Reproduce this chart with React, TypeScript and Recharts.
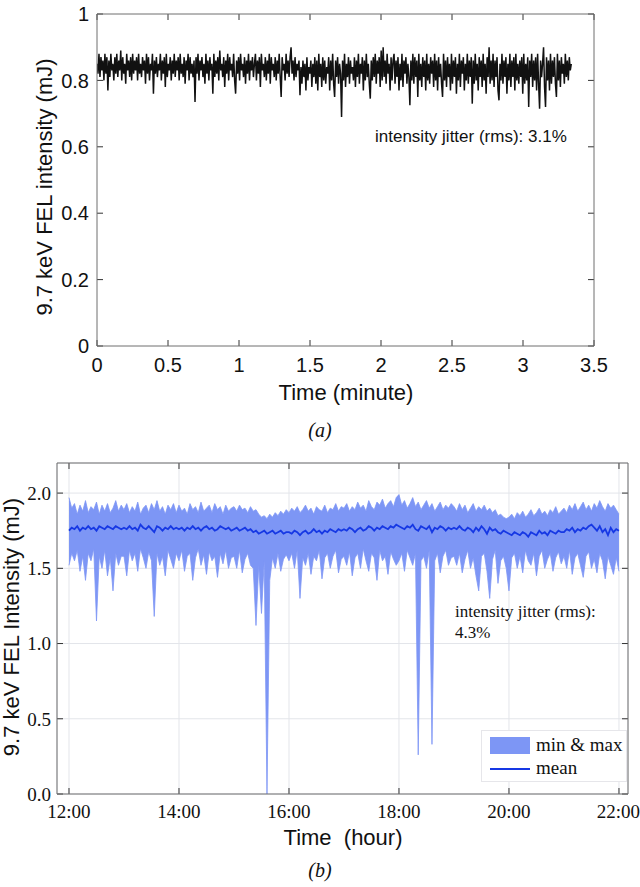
import { LineChart, Line, XAxis, YAxis, ComposedChart, Area, CartesianGrid, ReferenceLine } from 'recharts';

// ---- panel (a): single-shot intensity over ~3.3 minutes ----
const minuteTicks = [0, 0.5, 1, 1.5, 2, 2.5, 3, 3.5];
const intensityTicksA = [0, 0.2, 0.4, 0.6, 0.8, 1];
const traceStart = 0;
const traceEnd = 3.34;
const traceA = [
  0.85, 0.82, 0.88, 0.81, 0.87, 0.83, 0.86, 0.8, 0.88, 0.82, 0.87, 0.77, 0.86, 0.81, 0.88, 0.83, 0.85, 0.8, 0.87, 0.82,
  0.88, 0.81, 0.86, 0.83, 0.89, 0.8, 0.87, 0.82, 0.85, 0.79, 0.88, 0.83, 0.86, 0.81, 0.87, 0.8, 0.88, 0.82, 0.86, 0.83,
  0.87, 0.8, 0.88, 0.82, 0.85, 0.81, 0.87, 0.83, 0.86, 0.79, 0.88, 0.82, 0.87, 0.8, 0.85, 0.83, 0.88, 0.76, 0.86, 0.82,
  0.87, 0.81, 0.85, 0.83, 0.88, 0.8, 0.86, 0.82, 0.87, 0.78, 0.88, 0.81, 0.85, 0.83, 0.87, 0.8, 0.86, 0.82, 0.88, 0.81,
  0.86, 0.83, 0.87, 0.8, 0.88, 0.82, 0.85, 0.81, 0.87, 0.79, 0.86, 0.83, 0.88, 0.8, 0.87, 0.82, 0.85, 0.81, 0.86, 0.735,
  0.87, 0.82, 0.88, 0.8, 0.86, 0.83, 0.87, 0.81, 0.85, 0.79, 0.88, 0.82, 0.86, 0.8, 0.87, 0.83, 0.85, 0.76, 0.88, 0.81,
  0.86, 0.82, 0.87, 0.8, 0.89, 0.83, 0.85, 0.81, 0.87, 0.78, 0.86, 0.82, 0.88, 0.8, 0.87, 0.83, 0.85, 0.81, 0.88, 0.8,
  0.76, 0.86, 0.82, 0.87, 0.8, 0.88, 0.83, 0.85, 0.81, 0.87, 0.79, 0.86, 0.82, 0.88, 0.8, 0.86, 0.83, 0.87, 0.81, 0.85,
  0.88, 0.8, 0.86, 0.82, 0.87, 0.78, 0.88, 0.83, 0.85, 0.81, 0.87, 0.8, 0.86, 0.82, 0.88, 0.79, 0.87, 0.83, 0.85, 0.81,
  0.87, 0.8, 0.86, 0.82, 0.88, 0.81, 0.75, 0.87, 0.83, 0.85, 0.8, 0.88, 0.82, 0.86, 0.81, 0.87, 0.9, 0.82, 0.86, 0.8,
  0.87, 0.81, 0.85, 0.83, 0.86, 0.755, 0.84, 0.79, 0.86, 0.81, 0.85, 0.77, 0.87, 0.8, 0.84, 0.82, 0.86, 0.78, 0.85, 0.81,
  0.87, 0.79, 0.86, 0.77, 0.88, 0.81, 0.85, 0.78, 0.87, 0.8, 0.86, 0.79, 0.84, 0.82, 0.87, 0.77, 0.86, 0.8, 0.88, 0.79,
  0.75, 0.86, 0.81, 0.87, 0.79, 0.85, 0.82, 0.69, 0.86, 0.8, 0.88, 0.78, 0.85, 0.81, 0.87, 0.79, 0.86, 0.82, 0.84, 0.8,
  0.87, 0.78, 0.86, 0.81, 0.88, 0.79, 0.85, 0.82, 0.87, 0.77, 0.86, 0.8, 0.88, 0.81, 0.85, 0.79, 0.745, 0.86, 0.8, 0.87,
  0.81, 0.88, 0.79, 0.86, 0.82, 0.87, 0.78, 0.89, 0.8, 0.9, 0.81, 0.86, 0.79, 0.88, 0.82, 0.85, 0.77, 0.87, 0.8, 0.86,
  0.88, 0.79, 0.86, 0.81, 0.87, 0.77, 0.85, 0.8, 0.88, 0.78, 0.86, 0.82, 0.87, 0.79, 0.85, 0.81, 0.725, 0.86, 0.8, 0.88,
  0.79, 0.87, 0.81, 0.86, 0.75, 0.88, 0.8, 0.85, 0.78, 0.87, 0.81, 0.86, 0.77, 0.88, 0.8, 0.85, 0.79, 0.87, 0.82, 0.86,
  0.78, 0.88, 0.8, 0.86, 0.77, 0.87, 0.81, 0.85, 0.79, 0.75, 0.88, 0.8, 0.86, 0.78, 0.87, 0.81, 0.85, 0.77, 0.88, 0.79,
  0.86, 0.81, 0.87, 0.76, 0.85, 0.8, 0.88, 0.78, 0.86, 0.82, 0.87, 0.77, 0.85, 0.8, 0.88, 0.79, 0.86, 0.81, 0.87, 0.73,
  0.86, 0.79, 0.88, 0.8, 0.85, 0.77, 0.87, 0.81, 0.86, 0.78, 0.88, 0.8, 0.85, 0.76, 0.87, 0.81, 0.9, 0.79, 0.86, 0.8,
  0.88, 0.78, 0.86, 0.81, 0.87, 0.77, 0.74, 0.85, 0.8, 0.88, 0.79, 0.86, 0.81, 0.87, 0.76, 0.85, 0.8, 0.88, 0.78, 0.86,
  0.81, 0.87, 0.77, 0.88, 0.8, 0.85, 0.79, 0.86, 0.81, 0.87, 0.76, 0.88, 0.79, 0.85, 0.8, 0.87, 0.72, 0.86, 0.81, 0.88,
  0.78, 0.86, 0.8, 0.87, 0.77, 0.88, 0.79, 0.715, 0.86, 0.81, 0.85, 0.9, 0.78, 0.72, 0.87, 0.8, 0.86, 0.77, 0.88, 0.79,
  0.86, 0.81, 0.87, 0.79, 0.75, 0.88, 0.8, 0.86, 0.78, 0.87, 0.82, 0.85, 0.79, 0.88, 0.81, 0.86, 0.8, 0.87, 0.83, 0.85,
];

// ---- panel (b): 10 hours, binned min / max / mean ----
const hourTicks = [12, 14, 16, 18, 20, 22];
const intensityTicksB = [0, 0.5, 1, 1.5, 2];
const hourStart = 12;
const hourStep = 0.05;
const minB = [
  1.52, 1.6, 1.55, 1.62, 1.48, 1.58, 1.42, 1.6, 1.55, 1.63, 1.15, 1.58, 1.5, 1.62, 1.45, 1.57, 1.35, 1.6, 1.52, 1.58,
  1.58, 1.45, 1.62, 1.55, 1.6, 1.48, 1.63, 1.57, 1.5, 1.61, 1.55, 1.18, 1.6, 1.52, 1.58, 1.45, 1.62, 1.56, 1.5, 1.6,
  1.55, 1.62, 1.48, 1.58, 1.6, 1.42, 1.57, 1.63, 1.52, 1.59, 1.46, 1.61, 1.55, 1.58, 1.44, 1.6, 1.53, 1.62, 1.5, 1.57,
  1.58, 1.5, 1.62, 1.47, 1.56, 1.6, 1.52, 1.5, 1.12, 1.52, 1.2, 1.55, 0.0, 1.42, 1.57, 1.5, 1.6, 1.48, 1.56, 1.59,
  1.55, 1.6, 1.5, 1.62, 1.3, 1.57, 1.52, 1.6, 1.46, 1.58, 1.55, 1.62, 1.43, 1.57, 1.6, 1.5, 1.58, 1.62, 1.47, 1.56,
  1.58, 1.52, 1.61, 1.45, 1.57, 1.6, 1.5, 1.63, 1.55, 1.48, 1.6, 1.57, 1.42, 1.62, 1.55, 1.58, 1.46, 1.61, 1.56, 1.52,
  1.55, 1.6, 1.48, 1.62, 1.57, 1.52, 1.6, 0.26, 1.55, 1.58, 1.5, 1.62, 0.33, 1.55, 1.6, 1.47, 1.58, 1.62, 1.52, 1.57,
  1.58, 1.52, 1.6, 1.47, 1.56, 1.62, 1.5, 1.57, 1.45, 1.35, 1.58, 1.6, 1.48, 1.3, 1.56, 1.62, 1.4, 1.55, 1.58, 1.5,
  1.35, 1.57, 1.6, 1.5, 1.58, 1.47, 1.62, 1.55, 1.52, 1.6, 1.45, 1.58, 1.62, 1.5, 1.56, 1.6, 1.48, 1.57, 1.61, 1.53,
  1.58, 1.5, 1.62, 1.46, 1.57, 1.6, 1.52, 1.44, 1.58, 1.61, 1.5, 1.56, 1.47, 1.6, 1.55, 1.43, 1.58, 1.52, 1.46, 1.57, 1.48,
];
const maxB = [
  1.97, 1.9, 1.93, 1.86, 1.92, 1.88, 1.95, 1.87, 1.91, 1.89, 1.94, 1.86, 1.92, 1.88, 1.93, 1.87, 1.9, 1.95, 1.88, 1.92,
  1.89, 1.93, 1.87, 1.91, 1.88, 1.94, 1.86, 1.9, 1.92, 1.87, 1.93, 1.89, 1.95, 1.88, 1.91, 1.86, 1.92, 1.89, 1.93, 1.87,
  1.92, 1.88, 1.9, 1.86, 1.93, 1.89, 1.91, 1.87, 1.94, 1.88, 1.9, 1.92, 1.87, 1.93, 1.89, 1.91, 1.86, 1.92, 1.88, 1.9,
  1.91, 1.88, 1.92, 1.89, 1.9, 1.87, 1.91, 1.88, 1.89, 1.86, 1.84, 1.85, 1.83, 1.86, 1.84, 1.87, 1.85, 1.88, 1.86, 1.89,
  1.87, 1.9, 1.88, 1.91, 1.87, 1.89, 1.92, 1.88, 1.9, 1.86, 1.91, 1.89, 1.88, 1.92, 1.87, 1.9, 1.89, 1.93, 1.88, 1.91,
  1.9, 1.93, 1.88, 1.91, 1.89, 1.94, 1.9, 1.92, 1.88, 1.95, 1.91, 1.89, 1.94, 1.92, 1.96, 1.9, 1.93, 1.95, 1.91, 1.97,
  1.99, 1.92, 1.95, 1.9, 1.93, 1.97, 1.91, 1.94, 1.89, 1.92, 1.95, 1.9, 1.93, 1.88, 1.91, 1.94, 1.89, 1.92, 1.9, 1.93,
  1.91, 1.88, 1.93, 1.89, 1.92, 1.87, 1.9, 1.93, 1.88, 1.91, 1.89, 1.92, 1.88, 1.9, 1.87, 1.89, 1.85, 1.86, 1.84, 1.83,
  1.84, 1.86, 1.83, 1.87, 1.85, 1.88, 1.84, 1.86, 1.89, 1.85, 1.87, 1.9, 1.86, 1.88, 1.85, 1.89, 1.87, 1.91, 1.86, 1.88,
  1.9, 1.87, 1.92, 1.89, 1.93, 1.88, 1.91, 1.94, 1.89, 1.92, 1.88, 1.93, 1.9, 1.95, 1.91, 1.88, 1.93, 1.9, 1.92, 1.89, 1.86,
];
const meanB = [
  1.75, 1.77, 1.76, 1.78, 1.75, 1.77, 1.76, 1.78, 1.76, 1.77, 1.75, 1.78, 1.77, 1.76, 1.78, 1.77, 1.76, 1.78, 1.77, 1.76,
  1.77, 1.76, 1.78, 1.76, 1.77, 1.75, 1.79, 1.77, 1.76, 1.78, 1.76, 1.74, 1.78, 1.77, 1.75, 1.77, 1.76, 1.78, 1.76, 1.77,
  1.76, 1.77, 1.75, 1.77, 1.76, 1.78, 1.76, 1.77, 1.75, 1.77, 1.78, 1.76, 1.77, 1.75, 1.76, 1.78, 1.77, 1.76, 1.77, 1.75,
  1.76, 1.77, 1.75, 1.76, 1.77, 1.75, 1.76, 1.74, 1.75, 1.73, 1.74, 1.75, 1.73, 1.74, 1.75, 1.73, 1.74, 1.75, 1.73, 1.74,
  1.74, 1.73, 1.75, 1.74, 1.72, 1.74, 1.75, 1.73, 1.74, 1.76, 1.74, 1.75, 1.73, 1.75, 1.74, 1.76, 1.75, 1.74, 1.76, 1.75,
  1.76, 1.75, 1.77, 1.76, 1.74, 1.76, 1.77, 1.75, 1.76, 1.78, 1.77, 1.75, 1.77, 1.76, 1.78, 1.77, 1.76, 1.78, 1.77, 1.79,
  1.78, 1.77, 1.76, 1.78, 1.77, 1.79, 1.76, 1.75, 1.78, 1.77, 1.76, 1.78, 1.74, 1.77, 1.76, 1.78, 1.77, 1.75, 1.77, 1.76,
  1.77, 1.76, 1.78, 1.76, 1.75, 1.77, 1.76, 1.74, 1.77, 1.75, 1.78, 1.76, 1.73, 1.77, 1.75, 1.76, 1.74, 1.73, 1.75, 1.74,
  1.73, 1.72, 1.74, 1.73, 1.72, 1.74, 1.73, 1.71, 1.74, 1.73, 1.72, 1.75, 1.73, 1.74, 1.72, 1.75, 1.74, 1.73, 1.75, 1.74,
  1.74, 1.76, 1.75, 1.77, 1.74, 1.76, 1.75, 1.77, 1.76, 1.78, 1.79, 1.77, 1.75, 1.78, 1.74, 1.76, 1.72, 1.77, 1.74, 1.76, 1.75,
];

const dataA = traceA.map((v, i) => ({
  t: traceStart + (i * (traceEnd - traceStart)) / (traceA.length - 1),
  v,
}));

const dataB = meanB.map((m, i) => ({
  t: hourStart + i * hourStep,
  range: [minB[i], maxB[i]],
  mean: m,
}));

const SANS = '"Liberation Sans", Arial, sans-serif';
const SERIF = '"Liberation Serif", "Times New Roman", serif';
const FRAME = '#6e6e6e';
const TICK_COLOR = '#333';
const BAND = '#7d96f5';
const MEAN = '#1638e4';
const TICK_PX = 6;

const abs = (extra: React.CSSProperties): React.CSSProperties => ({ position: 'absolute', whiteSpace: 'nowrap', ...extra });

// MATLAB-style ticks pointing into the box on all four sides, drawn as short
// reference segments so they go through the chart's own scales.
function boxTicks(
  xTicks: number[],
  yTicks: number[],
  xDom: [number, number],
  yDom: [number, number],
  plotW: number,
  plotH: number,
) {
  const dx = (TICK_PX * (xDom[1] - xDom[0])) / plotW;
  const dy = (TICK_PX * (yDom[1] - yDom[0])) / plotH;
  const segs: { x: number; y: number }[][] = [];
  xTicks.forEach((t) => {
    segs.push([{ x: t, y: yDom[0] }, { x: t, y: yDom[0] + dy }]);
    segs.push([{ x: t, y: yDom[1] }, { x: t, y: yDom[1] - dy }]);
  });
  yTicks.forEach((v) => {
    segs.push([{ x: xDom[0], y: v }, { x: xDom[0] + dx, y: v }]);
    segs.push([{ x: xDom[1], y: v }, { x: xDom[1] - dx, y: v }]);
  });
  return segs.map((s, i) => (
    <ReferenceLine key={`tk${i}`} segment={s} stroke={TICK_COLOR} strokeWidth={1} ifOverflow="visible" />
  ));
}

const domA: [number, number] = [0, 3.5];
const rangeA: [number, number] = [0, 1];
const domB: [number, number] = [11.782, 22.164];
const rangeB: [number, number] = [0, 2.2];

function PanelA() {
  const tickStyle = { fill: '#111', fontSize: 20, fontFamily: SANS };
  return (
    <div style={abs({ left: 0, top: 0, width: 640, height: 440 })}>
      <LineChart width={640} height={440} data={dataA} margin={{ top: 13, right: 45, left: 0, bottom: 0 }}>
        <XAxis
          dataKey="t"
          type="number"
          domain={domA}
          ticks={minuteTicks}
          allowDataOverflow
          height={94}
          tickSize={0}
          tickMargin={12}
          tickLine={false}
          stroke={FRAME}
          tick={tickStyle}
        />
        <XAxis xAxisId="top" orientation="top" type="number" domain={domA} height={1} tick={false} tickLine={false} stroke={FRAME} />
        <YAxis
          type="number"
          domain={rangeA}
          ticks={intensityTicksA}
          width={97}
          tickSize={0}
          tickMargin={8}
          tickLine={false}
          stroke={FRAME}
          tick={tickStyle}
        />
        <YAxis yAxisId="right" orientation="right" type="number" domain={rangeA} width={1} tick={false} tickLine={false} stroke={FRAME} />
        <Line
          type="linear"
          dataKey="v"
          stroke="#111"
          strokeWidth={1.5}
          dot={false}
          isAnimationActive={false}
        />
        {boxTicks(minuteTicks, intensityTicksA, domA, rangeA, 497, 332)}
      </LineChart>
      <div style={abs({ left: 45, top: 187, transform: 'translate(-50%, -50%) rotate(-90deg)', fontFamily: SANS, fontSize: 22, color: '#111' })}>
        9.7 keV FEL intensity (mJ)
      </div>
      <div style={abs({ left: 346, top: 393, transform: 'translate(-50%, -50%)', fontFamily: SANS, fontSize: 22, color: '#111' })}>
        Time (minute)
      </div>
      <div style={abs({ left: 375, top: 137, transform: 'translateY(-50%)', fontFamily: SANS, fontSize: 17, color: '#111' })}>
        intensity jitter (rms): 3.1%
      </div>
      <div style={abs({ left: 320, top: 430, transform: 'translate(-50%, -50%)', fontFamily: SERIF, fontStyle: 'italic', fontSize: 20, color: '#111' })}>
        (a)
      </div>
    </div>
  );
}

function PanelB() {
  const tickStyle = { fill: '#111', fontSize: 19, fontFamily: SERIF };
  return (
    <div style={abs({ left: 0, top: 440, width: 640, height: 447 })}>
      <ComposedChart width={640} height={447} data={dataB} margin={{ top: 22, right: 11, left: 0, bottom: 0 }}>
        <CartesianGrid stroke="#e3e5ea" strokeWidth={1} />
        <XAxis
          dataKey="t"
          type="number"
          domain={domB}
          ticks={hourTicks}
          allowDataOverflow
          height={93}
          tickSize={0}
          tickMargin={11}
          tickLine={false}
          stroke={FRAME}
          tick={tickStyle}
          tickFormatter={(h: number) => `${h}:00`}
        />
        <XAxis xAxisId="top" orientation="top" type="number" domain={domB} height={1} tick={false} tickLine={false} stroke={FRAME} />
        <YAxis
          type="number"
          domain={rangeB}
          ticks={intensityTicksB}
          allowDataOverflow
          width={57}
          tickSize={0}
          tickMargin={6}
          tickLine={false}
          stroke={FRAME}
          tick={tickStyle}
          tickFormatter={(v: number) => v.toFixed(1)}
        />
        <YAxis yAxisId="right" orientation="right" type="number" domain={rangeB} width={1} tick={false} tickLine={false} stroke={FRAME} />
        <Area
          type="linear"
          dataKey="range"
          fill={BAND}
          fillOpacity={1}
          stroke={BAND}
          strokeWidth={0.8}
          isAnimationActive={false}
        />
        <Line
          type="linear"
          dataKey="mean"
          stroke={MEAN}
          strokeWidth={1.8}
          dot={false}
          isAnimationActive={false}
        />
        {boxTicks(hourTicks, intensityTicksB, domB, rangeB, 571, 331)}
      </ComposedChart>
      <div style={abs({ left: 12, top: 187, transform: 'translate(-50%, -50%) rotate(-90deg)', fontFamily: SANS, fontSize: 22, color: '#111' })}>
        9.7 keV FEL Intensity (mJ)
      </div>
      <div style={abs({ left: 343, top: 398, transform: 'translate(-50%, -50%)', fontFamily: SANS, fontSize: 22, color: '#111' })}>
        Time&nbsp;&nbsp;(hour)
      </div>
      <div style={abs({ left: 455, top: 161, fontFamily: SERIF, fontSize: 17, lineHeight: '21px', color: '#111' })}>
        intensity jitter (rms):
        <br />
        4.3%
      </div>
      <div
        style={abs({
          left: 481,
          top: 290,
          width: 146,
          height: 52,
          background: '#fff',
          border: '1px solid #e6e6ea',
          boxSizing: 'border-box',
          fontFamily: SERIF,
          fontSize: 19,
          color: '#111',
        })}
      >
        <div style={abs({ left: 8, top: 6, width: 40, height: 17, background: BAND })} />
        <div style={abs({ left: 54, top: 14, transform: 'translateY(-50%)' })}>min &amp; max</div>
        <div style={abs({ left: 8, top: 37, width: 40, height: 2, background: MEAN })} />
        <div style={abs({ left: 54, top: 37, transform: 'translateY(-50%)' })}>mean</div>
      </div>
      <div style={abs({ left: 320, top: 430, transform: 'translate(-50%, -50%)', fontFamily: SERIF, fontStyle: 'italic', fontSize: 20, color: '#111' })}>
        (b)
      </div>
    </div>
  );
}

export default function App() {
  return (
    <div style={abs({ left: 0, top: 0, width: 640, height: 887, background: '#fff' })}>
      <PanelA />
      <PanelB />
    </div>
  );
}
